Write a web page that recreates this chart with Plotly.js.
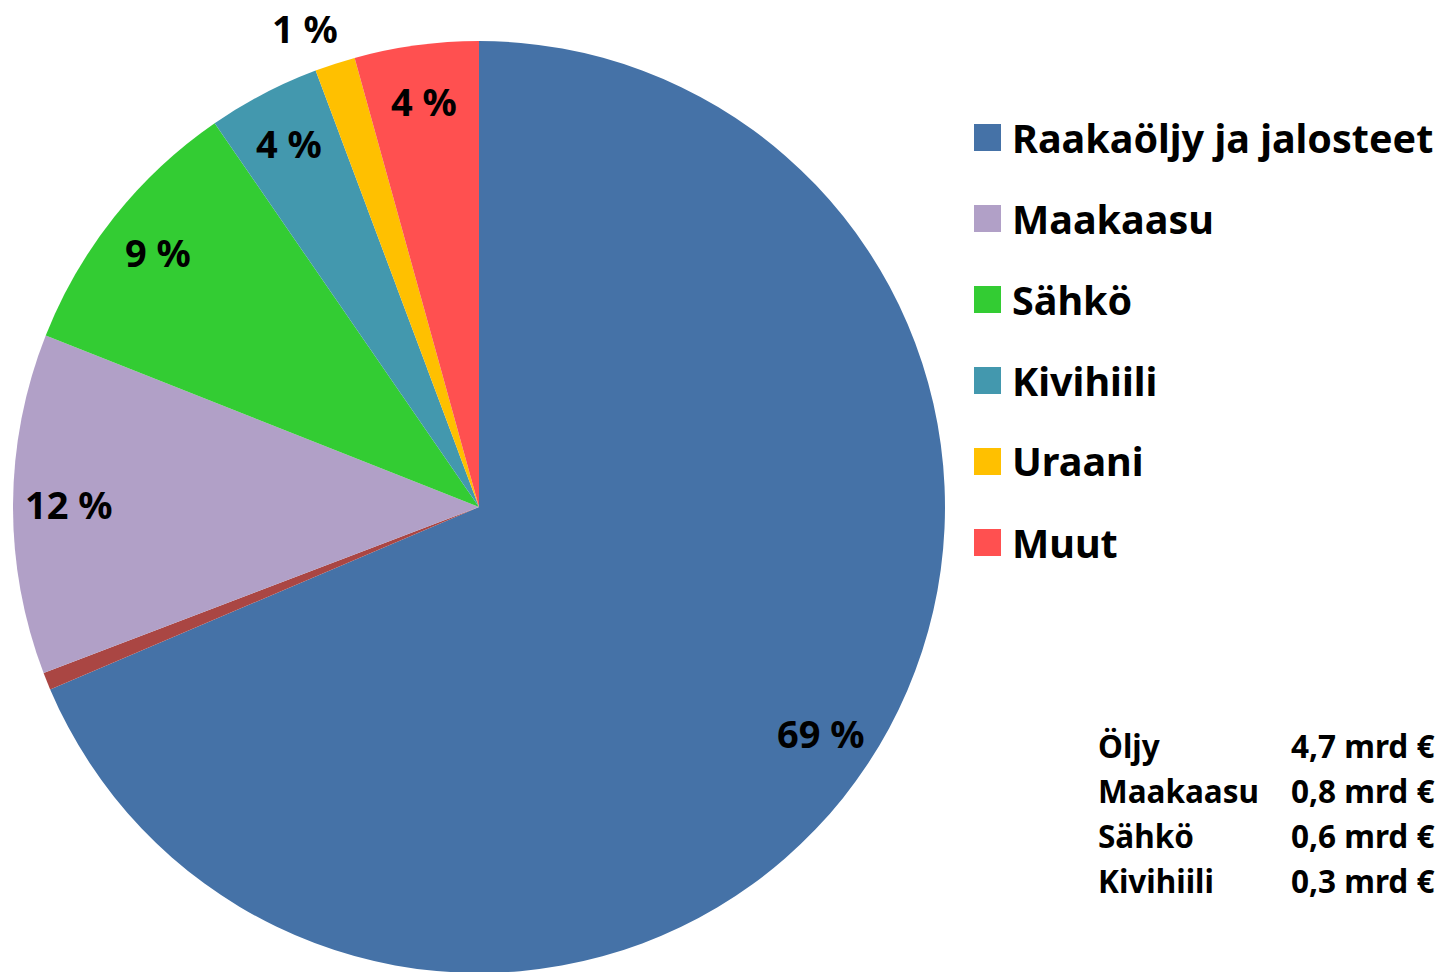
<!DOCTYPE html>
<html>
<head>
<meta charset="utf-8">
<script src="https://cdn.plot.ly/plotly-3.0.1.min.js"></script>
<style>
html,body{margin:0;padding:0;overflow:hidden;background:#fff;}
#chart{width:1448px;height:1014px;}
</style>
</head>
<body>
<div id="chart"></div>
<script>
// ---- data ----
var sliceLabels = ['Raakaöljy ja jalosteet', 'Muu', 'Maakaasu', 'Sähkö', 'Kivihiili', 'Uraani', 'Muut'];
var sliceValues = [68.6, 0.6, 11.8, 9.4, 3.9, 1.4, 4.3];
var sliceColors = ['#4572A7', '#AA4643', '#B1A0C7', '#33CC33', '#4398AE', '#FFC000', '#FF5050'];
var sliceShowLabel = [true, false, true, true, true, true, true];
var sliceInLegend = [true, false, true, true, true, true, true];
var tableNames = ['Öljy', 'Maakaasu', 'Sähkö', 'Kivihiili'];
var tableValues = [4.7, 0.8, 0.6, 0.3];
var tableUnit = 'mrd €';

// ---- geometry ----
var W = 1448, H = 1014, MT = 41, MB = 41;
var PH = H - MT - MB;             // plot-area height (932)
var R = PH / 2;                   // pie radius in px
var CX = 13 + R, CY = MT + R;     // pie centre in page px
function px2x(px){ return px / W; }
function py2y(py){ return 1 - (py - MT) / PH; }

var FONT = '"Noto Sans", Lato, sans-serif';
var annotations = [];
var shapes = [];

// slice percentage labels, placed along each slice's mid angle
var total = sliceValues.reduce(function(a,b){return a+b;}, 0);
var cum = 0;
sliceValues.forEach(function(v, i){
  var frac = v / total;
  var mid = (cum + frac / 2) * 2 * Math.PI;  // clockwise from 12 o'clock
  cum += frac;
  if (!sliceShowLabel[i]) return;
  var outside = frac < 0.02;
  var rr = outside ? R * 1.08 : R * 0.88;
  var px = CX + Math.sin(mid) * rr - (outside ? 18 : 0);
  var py = CY - Math.cos(mid) * rr;
  annotations.push({
    x: px2x(px), y: py2y(py), xref: 'paper', yref: 'paper',
    xanchor: 'center', yanchor: 'middle', showarrow: false,
    text: '<b>' + Math.round(v) + ' %</b>',
    font: {family: FONT, size: 38, color: '#000'}
  });
});

// legend (custom, large swatches)
var legY0 = 137.5, legStep = 81, li = 0;
sliceLabels.forEach(function(lab, i){
  if (!sliceInLegend[i]) return;
  var cy = legY0 + li * legStep;
  shapes.push({
    type: 'rect', xref: 'paper', yref: 'paper',
    x0: px2x(974), x1: px2x(1001), y0: py2y(cy + 13.5), y1: py2y(cy - 13.5),
    fillcolor: sliceColors[i], line: {width: 0}
  });
  annotations.push({
    x: px2x(1010), y: py2y(cy), xref: 'paper', yref: 'paper',
    xanchor: 'left', yanchor: 'middle', showarrow: false,
    text: '<b>' + lab + '</b>',
    font: {family: FONT, size: 39.5, color: '#000'}
  });
  li++;
});

// value table
var tabY0 = 745, tabStep = 45;
tableNames.forEach(function(n, i){
  var cy = tabY0 + i * tabStep;
  annotations.push({
    x: px2x(1096), y: py2y(cy), xref: 'paper', yref: 'paper',
    xanchor: 'left', yanchor: 'middle', showarrow: false,
    text: '<b>' + n + '</b>',
    font: {family: FONT, size: 31.5, color: '#000'}
  });
  annotations.push({
    x: px2x(1436), y: py2y(cy), xref: 'paper', yref: 'paper',
    xanchor: 'right', yanchor: 'middle', showarrow: false,
    text: '<b>' + tableValues[i].toFixed(1).replace('.', ',') + ' ' + tableUnit + '</b>',
    font: {family: FONT, size: 31.5, color: '#000'}
  });
});

var trace = {
  type: 'pie',
  labels: sliceLabels,
  values: sliceValues,
  marker: {colors: sliceColors, line: {width: 0}},
  sort: false,
  direction: 'clockwise',
  rotation: 0,
  textinfo: 'none',
  hoverinfo: 'none',
  showlegend: false,
  domain: {x: [13 / W, (13 + 2 * R) / W], y: [0, 1]}
};

var layout = {
  width: W, height: H,
  margin: {l: 0, r: 0, t: MT, b: MB, pad: 0},
  paper_bgcolor: '#fff',
  plot_bgcolor: '#fff',
  showlegend: false,
  annotations: annotations,
  shapes: shapes,
  font: {family: FONT}
};

Plotly.newPlot('chart', [trace], layout, {displayModeBar: false, staticPlot: true});
</script>
</body>
</html>
